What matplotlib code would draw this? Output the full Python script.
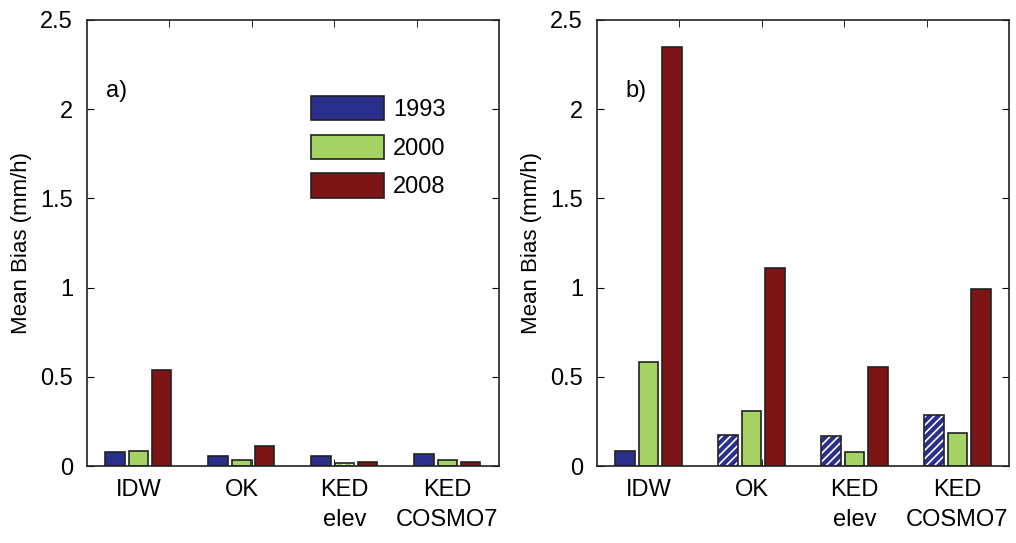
import numpy as np
import matplotlib
matplotlib.use("Agg")
import matplotlib.pyplot as plt
from matplotlib.patches import Patch

plt.rcParams['font.family'] = ['Liberation Sans', 'DejaVu Sans']
plt.rcParams['hatch.linewidth'] = 1.2

methods = ["IDW", "OK", "KED\nelev", "KED\nCOSMO7"]
years = ["1993", "2000", "2008"]
colors = ["#2b2f8c", "#a5d465", "#7d1416"]

# mean bias (mm/h), rows = years, cols = methods
bias_a = {
    "1993": [0.08, 0.055, 0.055, 0.07],
    "2000": [0.085, 0.035, 0.018, 0.035],
    "2008": [0.54, 0.11, 0.02, 0.025],
}
bias_b = {
    "1993": [0.085, 0.175, 0.17, 0.285],
    "2000": [0.585, 0.31, 0.08, 0.185],
    "2008": [2.35, 1.11, 0.555, 0.99],
}
# which bars are hatched (year, method index)
hatched_a = [("2000", 2)]
hatched_b = [("1993", 1), ("1993", 2), ("1993", 3)]


def drawPanel(ax, data, hatched, tag):
    x = np.arange(1, len(methods) + 1)
    width = 0.185
    step = 0.228
    for j, yr in enumerate(years):
        xs = x + (j - 1) * step
        vals = np.array(data[yr])
        for k in range(len(methods)):
            isHatch = (yr, k) in hatched
            if isHatch:
                ax.bar(xs[k], vals[k], width, color=colors[j], edgecolor='white',
                       hatch='////', linewidth=0, zorder=2)
                ax.bar(xs[k], vals[k], width, fill=False, edgecolor='#222222',
                       linewidth=1.2, zorder=3)
            else:
                ax.bar(xs[k], vals[k], width, color=colors[j], edgecolor='#222222',
                       linewidth=1.2, zorder=2)

    ax.set_xlim(0.5, 4.5)
    ax.set_ylim(0, 2.5)
    ax.set_yticks([0, 0.5, 1, 1.5, 2, 2.5])
    ax.set_yticklabels(["0", "0.5", "1", "1.5", "2", "2.5"])
    ax.set_xticks(x)
    ax.set_xticklabels(methods, linespacing=1.5)
    ax.set_xticks([1.296, 2.098, 2.9, 3.702], minor=True)
    ax.tick_params(axis='x', which='major', length=0, labelsize=17, pad=9)
    ax.tick_params(axis='x', which='minor', length=5, direction='in', top=True, bottom=True)
    ax.tick_params(axis='y', length=5, direction='in', right=True, labelsize=17, pad=10)
    for s in ax.spines.values():
        s.set_linewidth(1.2)
        s.set_color('#222222')
    ax.set_ylabel("Mean Bias (mm/h)", fontsize=16, labelpad=6)
    ax.text(0.045 if tag == 'a)' else 0.068, 0.84, tag, transform=ax.transAxes,
            fontsize=17, va='center', ha='left')


fig = plt.figure(figsize=(10.16, 5.43), dpi=100)
axA = fig.add_axes([0.0856, 0.1418, 0.4055, 0.8214])
axB = fig.add_axes([0.5876, 0.1418, 0.4055, 0.8214])

drawPanel(axA, bias_a, hatched_a, 'a)')
drawPanel(axB, bias_b, hatched_b, 'b)')

handles = [Patch(facecolor=c, edgecolor='#222222', linewidth=1.2) for c in colors]
axA.legend(handles, years, loc='upper left', bbox_to_anchor=(0.543, 0.83),
           frameon=False, fontsize=17, handlelength=3.1, handleheight=1.2,
           labelspacing=0.58, handletextpad=0.4, borderpad=0, borderaxespad=0)

fig.savefig("out.png", dpi=100)
